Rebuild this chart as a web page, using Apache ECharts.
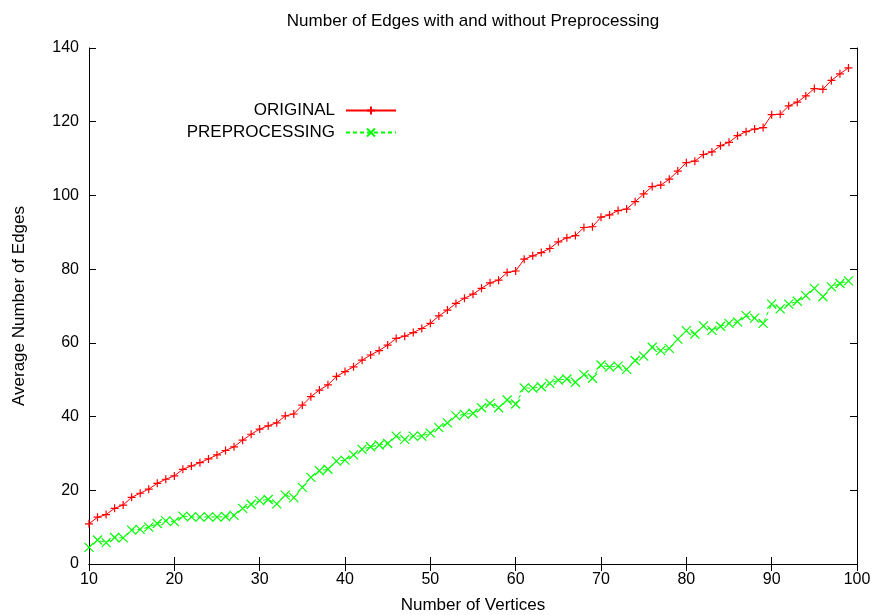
<!DOCTYPE html>
<html>
<head>
<meta charset="utf-8">
<script src="https://cdn.jsdelivr.net/npm/echarts@6/dist/echarts.min.js"></script>
<style>
html,body{margin:0;padding:0;background:#fff;}
#chart{width:872px;height:615px;}
</style>
</head>
<body>
<div id="chart"></div>
<script>
const chartTitle = 'Number of Edges with and without Preprocessing';
const xAxisName = 'Number of Vertices';
const yAxisName = 'Average Number of Edges';
const seriesNames = ['ORIGINAL', 'PREPROCESSING'];

const vertices = [10,11,12,13,14,15,16,17,18,19,
  20,21,22,23,24,25,26,27,28,29,
  30,31,32,33,34,35,36,37,38,39,
  40,41,42,43,44,45,46,47,48,49,
  50,51,52,53,54,55,56,57,58,59,
  60,61,62,63,64,65,66,67,68,69,
  70,71,72,73,74,75,76,77,78,79,
  80,81,82,83,84,85,86,87,88,89,
  90,91,92,93,94,95,96,97,98,99];

const original = [10.9,12.7,13.4,15.1,16.0,18.1,19.2,20.3,21.9,23.0,
  23.9,25.7,26.6,27.5,28.5,29.6,30.8,31.8,33.6,35.2,
  36.6,37.5,38.3,40.2,40.7,43.1,45.4,47.2,48.6,50.9,
  52.2,53.5,55.3,56.7,57.9,59.4,61.2,61.8,62.8,63.9,
  65.3,67.3,68.9,70.7,72.1,73.2,74.8,76.3,77.0,79.1,
  79.5,82.7,83.6,84.5,85.6,87.4,88.5,89.1,91.3,91.5,
  94.1,94.7,95.9,96.3,98.3,100.4,102.4,102.8,104.4,106.6,
  108.9,109.3,111.1,111.8,113.5,114.4,116.2,117.3,118.0,118.4,
  121.9,122.0,124.3,125.3,127.0,129.0,128.8,131.2,133.0,134.6];

const preprocessing = [4.5,6.5,5.8,7.2,7.1,9.2,9.4,10.0,11.0,11.7,
  11.5,13.0,12.8,12.7,12.8,12.7,12.9,13.2,15.1,16.2,
  17.2,17.5,16.3,18.7,18.0,20.8,23.5,25.3,25.7,27.9,
  28.2,29.6,31.1,31.8,32.3,32.7,34.7,33.8,34.7,34.7,
  35.5,37.0,38.3,40.2,40.6,40.9,42.4,43.6,42.4,44.5,
  43.4,47.8,47.7,48.1,49.0,49.9,50.2,49.3,51.4,50.4,
  54.0,53.4,53.7,52.8,55.2,56.4,58.8,57.9,58.5,61.0,
  63.3,62.4,64.6,63.4,64.5,65.3,65.7,67.4,66.7,65.3,
  70.5,69.2,70.5,71.3,72.8,74.8,72.5,75.2,76.1,76.8];

const FONT = '"Liberation Sans", Arial, Helvetica, sans-serif';
const chart = echarts.init(document.getElementById('chart'), null, {renderer: 'canvas'});

function axisCommon(extra) {
  return Object.assign({
    type: 'value',
    axisLine: {show: true, lineStyle: {color: '#000', width: 1}},
    axisTick: {show: true, inside: true, length: 7, lineStyle: {color: '#000', width: 1}},
    splitLine: {show: false},
    axisLabel: {color: '#000', fontFamily: FONT, fontSize: 16}
  }, extra);
}

const option = {
  animation: false,
  backgroundColor: '#fff',
  graphic: [{
    type: 'text', x: 473, y: 21,
    style: {text: chartTitle, fill: '#000', font: '17px ' + FONT, textAlign: 'center', textVerticalAlign: 'middle'}
  }],
  legend: {
    orient: 'vertical',
    align: 'right',
    right: 475,
    top: 102,
    padding: 0,
    itemWidth: 50,
    itemHeight: 10,
    itemGap: 5,
    selectedMode: false,
    data: seriesNames,
    formatter: function (n) { return '{t|' + n + '}'; },
    textStyle: {
      color: '#000', fontFamily: FONT, fontSize: 17,
      rich: {t: {color: '#000', fontFamily: FONT, fontSize: 17, padding: [0, 6, 0, 0]}}
    }
  },
  grid: {left: 89, right: 15, top: 48, bottom: 51, containLabel: false, outerBoundsMode: 'none'},
  xAxis: [
    axisCommon({min: 10, max: 100, interval: 10, position: 'bottom',
      name: xAxisName, nameLocation: 'middle', nameGap: 33,
      nameTextStyle: {color: '#000', fontFamily: FONT, fontSize: 17},
      axisLabel: {color: '#000', fontFamily: FONT, fontSize: 16, margin: 8}}),
    axisCommon({min: 10, max: 100, interval: 10, position: 'top', axisLabel: {show: false}})
  ],
  yAxis: [
    axisCommon({min: 0, max: 140, interval: 20, position: 'left',
      name: yAxisName, nameLocation: 'middle', nameGap: 61,
      nameTextStyle: {color: '#000', fontFamily: FONT, fontSize: 17},
      axisLabel: {color: '#000', fontFamily: FONT, fontSize: 16, margin: 10}}),
    axisCommon({min: 0, max: 140, interval: 20, position: 'right', axisLabel: {show: false}})
  ],
  series: [
    {
      name: seriesNames[0], type: 'line', xAxisIndex: 0, yAxisIndex: 0,
      data: vertices.map((v, i) => [v, original[i]]),
      symbol: 'path://M0,5L10,5M5,0L5,10', symbolSize: 8,
      lineStyle: {color: '#ff0000', width: 1},
      itemStyle: {color: '#ff0000', borderColor: '#ff0000', borderWidth: 1.2},
      emphasis: {disabled: true}
    },
    {
      name: seriesNames[1], type: 'line', xAxisIndex: 0, yAxisIndex: 0,
      data: vertices.map((v, i) => [v, preprocessing[i]]),
      symbol: 'path://M0,0L10,10M10,0L0,10', symbolSize: 9,
      lineStyle: {color: '#00ff00', width: 1, type: [4, 3]},
      itemStyle: {color: '#00ff00', borderColor: '#00ff00', borderWidth: 1.2},
      emphasis: {disabled: true}
    }
  ]
};
chart.setOption(option);
</script>
</body>
</html>
